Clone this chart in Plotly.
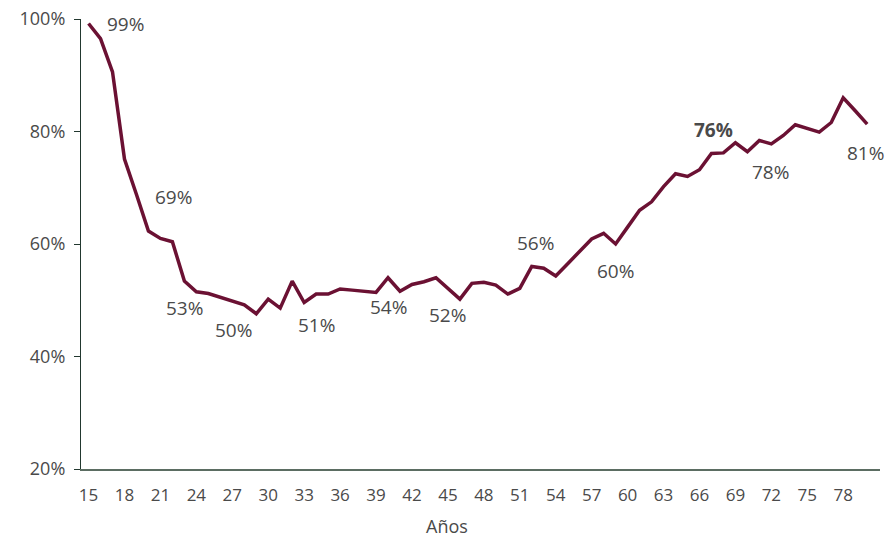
import plotly.graph_objects as go

ages = list(range(15, 81))
share = [99.2, 96.5, 90.6, 75.1, 68.8, 62.3, 61.0, 60.4, 53.4, 51.5,
         51.2, 50.5, 49.9, 49.2, 47.6, 50.2, 48.6, 53.4, 49.6, 51.1,
         51.1, 52.0, 51.8, 51.6, 51.4, 54.0, 51.6, 52.8, 53.3, 54.0,
         52.1, 50.2, 53.0, 53.2, 52.7, 51.1, 52.1, 56.0, 55.7, 54.3,
         56.5, 58.7, 60.9, 61.9, 60.0, 63.0, 66.0, 67.5, 70.2, 72.5,
         72.0, 73.2, 76.1, 76.2, 78.0, 76.4, 78.4, 77.8, 79.3, 81.2,
         80.6, 79.9, 81.6, 86.0, 83.7, 81.3]

x_tick_vals = list(range(15, 79, 3))
y_tick_vals = [20, 40, 60, 80, 100]
x_title = "Años"

label_ages = [15, 19, 23, 27, 34, 40, 45, 52, 59, 67, 72, 80]
label_texts = ["99%", "69%", "53%", "50%", "51%", "54%", "52%", "56%", "60%", "<b>76%</b>", "78%", "81%"]
label_dx = [37, 37, 0, 1, 0, 0, 0, 4, 0, 2, -1, -2]
label_dy = [0, -2, -27, -29, -31, -29, -27, 24, -27, 23, -28, -29]

FONT = "Open Sans"
TEXT = "#4a4a4a"

fig = go.Figure()
fig.add_trace(go.Scatter(
    x=ages, y=share, mode="lines",
    line=dict(color="#6b1133", width=3.5),
    hoverinfo="skip", showlegend=False,
))

for a, t, dx, dy in zip(label_ages, label_texts, label_dx, label_dy):
    fig.add_annotation(
        x=a, y=share[ages.index(a)], text=t, showarrow=False,
        xanchor="center", yanchor="middle", xshift=dx, yshift=dy,
        font=dict(family=FONT, size=19, color=TEXT),
    )

fig.add_annotation(
    xref="paper", yref="paper", x=0.458, y=-0.127, text=x_title,
    showarrow=False, xanchor="center", yanchor="middle", borderpad=0,
    font=dict(family=FONT, size=18, color=TEXT),
)

fig.update_layout(
    width=890, height=537,
    margin=dict(l=81, r=10, t=19, b=68, autoexpand=False),
    paper_bgcolor="white", plot_bgcolor="white",
    font=dict(family=FONT, color=TEXT),
    xaxis=dict(
        range=[14.37, 81.07], tickmode="array", tickvals=x_tick_vals,
        ticktext=[str(v) for v in x_tick_vals],
        showgrid=False, zeroline=False, showline=True, automargin=False,
        linecolor="#5b6d62", linewidth=2, ticks="", ticklabelstandoff=10,
        tickfont=dict(family=FONT, size=17, color=TEXT),
    ),
    yaxis=dict(
        range=[20, 100], tickmode="array", tickvals=y_tick_vals,
        ticktext=[f"{v}%" for v in y_tick_vals],
        showgrid=False, zeroline=False, showline=True, automargin=False,
        linecolor="#22382f", linewidth=1.2, ticks="outside", ticklen=6,
        tickcolor="#22382f", ticklabelstandoff=5,
        tickfont=dict(family=FONT, size=18, color=TEXT),
    ),
)

fig.write_html(
    "out.html",
    config={"displayModeBar": False},
    post_script="document.body.style.margin='0';document.body.style.overflow='hidden';",
)
